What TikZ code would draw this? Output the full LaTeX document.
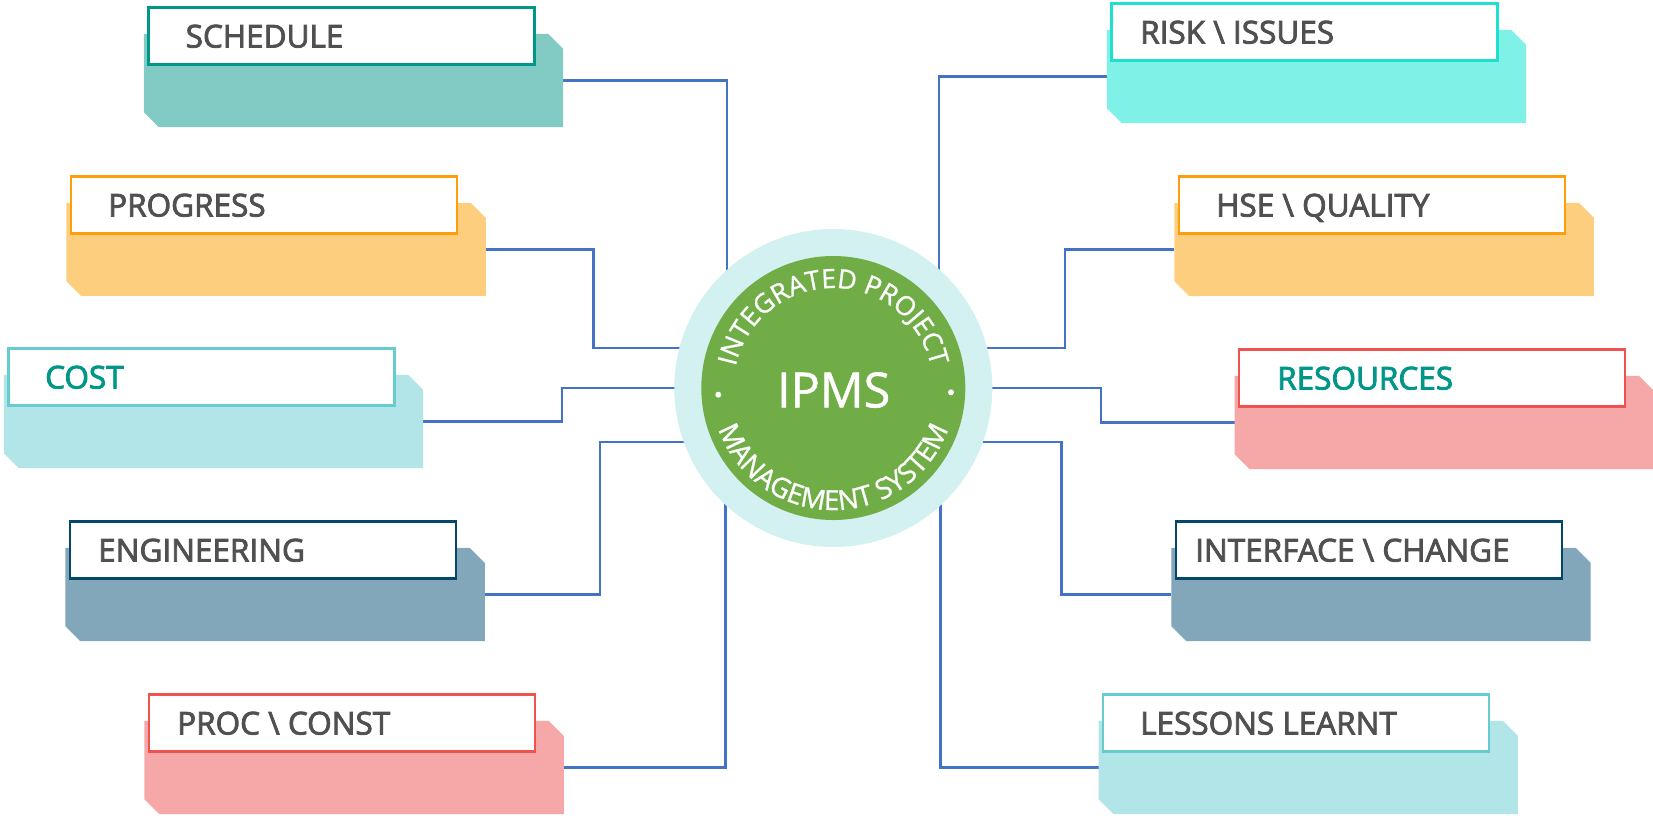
\documentclass[tikz,border=0pt]{standalone}
\usepackage{fontspec}
\setmainfont{Open Sans}
\newfontfamily\labfont[FakeBold=2.6]{Open Sans}
\newfontfamily\badgefont[FakeBold=1]{Open Sans}
\usetikzlibrary{calc,decorations.text,backgrounds}
\definecolor{cTeal}{HTML}{82CBC4}\definecolor{bTeal}{HTML}{009688}
\definecolor{cOrange}{HTML}{FECE7F}\definecolor{bOrange}{HTML}{FF9E0C}
\definecolor{cCyan}{HTML}{B2E5E7}\definecolor{bCyan}{HTML}{67CCD0}
\definecolor{cNavy}{HTML}{82A6BA}\definecolor{bNavy}{HTML}{05466B}
\definecolor{cRed}{HTML}{F6A8A8}\definecolor{bRed}{HTML}{EF5350}
\definecolor{cAqua}{HTML}{80F1E6}\definecolor{bAqua}{HTML}{1DE0D0}
\definecolor{txtGrey}{HTML}{505050}\definecolor{ringPale}{HTML}{D4F1F2}
\definecolor{discGreen}{HTML}{70AD47}\definecolor{linkBlue}{HTML}{4472C4}
\newcommand\arcfontA{\badgefont\fontsize{26.5}{30}\selectfont\color{white}}
\newcommand\arcfontB{\badgefont\fontsize{27.5}{30}\selectfont\color{white}}
\tikzset{
  backtile/.style={rectangle,draw=none,inner sep=0pt,minimum width=419pt,minimum height=93pt},
  fronttile/.style={rectangle,fill=white,line width=2.4pt,inner sep=0pt,minimum width=386pt,minimum height=57pt},
  tilelabel/.style={anchor=west,inner sep=0pt,font=\labfont\fontsize{31.5}{36}\selectfont,text height=22pt,text depth=0pt},
  link/.style={draw=linkBlue,line width=2.5pt},
  arctext/.style 2 args={decorate,decoration={text along path,text align=center,text={|#1|#2}}},
}
\newcommand\tile[8]{% name,L,T,shadow,border,textx,textcol,text
  \node[backtile] (#1) at ({#2+205.5},{#3+73.5}) {};
  \fill[#4] ($(#1.north east)+(-15,0)$) -- ($(#1.north east)+(0,15)$) -- (#1.south east)
     -- ($(#1.south west)+(15,0)$) -- ($(#1.south west)+(0,-15)$) -- (#1.north west) -- cycle;
  \node[fronttile,draw=#5] (#1f) at ({#2+193.5},{#3+29}) {};
  \node[tilelabel,text=#7] (#1t) at (#6,{#3+29.5}) {#8};
}
\begin{document}
\begin{tikzpicture}[x=1pt,y=-1pt]
\useasboundingbox (0,0) rectangle (1653,815);
\tile{sched}{148}{7}{cTeal}{bTeal}{185.5}{txtGrey}{SCHEDULE}
\tile{prog}{70.6}{176}{cOrange}{bOrange}{108}{txtGrey}{PROGRESS}
\tile{cost}{8}{348}{cCyan}{bCyan}{45}{bTeal}{COST}
\tile{engi}{69.6}{521}{cNavy}{bNavy}{98}{txtGrey}{ENGINEERING}
\tile{proc}{148.6}{694}{cRed}{bRed}{177}{txtGrey}{PROC \textbackslash{} CONST}
\tile{risk}{1111}{3}{cAqua}{bAqua}{1140}{txtGrey}{RISK \textbackslash{} ISSUES}
\tile{hse}{1178.6}{176}{cOrange}{bOrange}{1216}{txtGrey}{HSE \textbackslash{} QUALITY}
\tile{reso}{1238.7}{349}{cRed}{bRed}{1277}{bTeal}{RESOURCES}
\tile{intf}{1175.5}{521}{cNavy}{bNavy}{1195}{txtGrey}{INTERFACE \textbackslash{} CHANGE}
\tile{less}{1102.7}{694}{cCyan}{bCyan}{1140}{txtGrey}{LESSONS LEARNT}
% central badge
\node[circle,fill=ringPale,minimum size=318pt,inner sep=0pt] (ring) at (833.3,388) {};
\node[circle,fill=discGreen,minimum size=264pt,inner sep=0pt] (disc) at (833.3,388) {};
\node[text=white,inner sep=0pt,font=\badgefont\fontsize{48.5}{56}\selectfont] (ipms) at (833.7,390) {IPMS};
\node[circle,fill=white,minimum size=6pt,inner sep=0pt] (dotl) at (718.3,394.7) {};
\node[circle,fill=white,minimum size=6pt,inner sep=0pt] (dotr) at (951,392.3) {};
\path[arctext={\arcfontA}{INTEGRATED PROJECT}] ([shift={(165:100pt)}]disc.center) arc[start angle=165,end angle=15,radius=100pt];
\path[arctext={\arcfontB}{MANAGEMENT SYSTEM}] ([shift={(198:122pt)}]disc.center) arc[start angle=198,end angle=342,radius=122pt];
% connectors
\begin{scope}[on background layer]
\draw[link] (sched.east) -| (727,300);
\draw[link] (prog.east) -| (593.5,348) -- (700,348);
\draw[link] (cost.east) -| (562,388) -- (700,388);
\draw[link] (engi.east) -| (600,442) -- (700,442);
\draw[link] (proc.east) -| (725.7,480);
\draw[link] (risk.west) -| (939,300);
\draw[link] (hse.west) -| (1064.8,348) -- (960,348);
\draw[link] (reso.west) -| (1101,388) -- (960,388);
\draw[link] (intf.west) -| (1061.6,442) -- (960,442);
\draw[link] (less.west) -| (940.7,480);
\end{scope}
\end{tikzpicture}
\end{document}
